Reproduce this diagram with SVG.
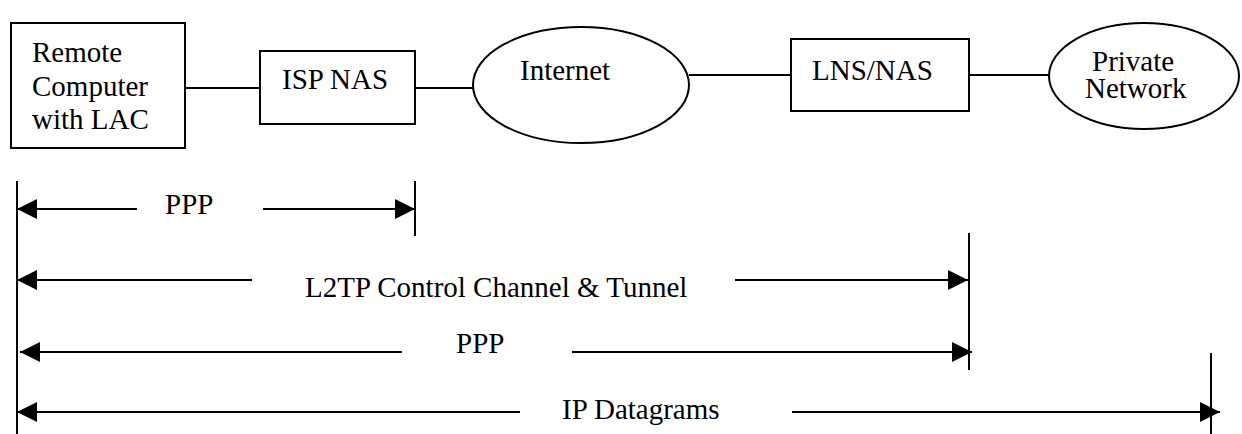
<svg xmlns="http://www.w3.org/2000/svg" width="1242" height="434" viewBox="0 0 1242 434">
<style>
.box{fill:#fff;stroke:#000;stroke-width:2}
.ln{stroke:#000;stroke-width:2;fill:none}
.ar{stroke:#000;stroke-width:2;fill:none;marker-end:url(#ah)}
text{font-family:"Liberation Serif","Times New Roman",serif;font-size:29px;fill:#000}
</style>
<defs>
<marker id="ah" markerUnits="userSpaceOnUse" markerWidth="20" markerHeight="20" refX="20" refY="10" orient="auto" viewBox="0 0 20 20">
<path d="M0,0 L20,10 L0,20 Z" fill="#000"/>
</marker>
</defs>
<rect width="1242" height="434" fill="#fff"/>
<g id="connectors">
<line class="ln" x1="185" y1="88" x2="260" y2="88"/>
<line class="ln" x1="415" y1="88" x2="473" y2="88"/>
<line class="ln" x1="689" y1="75" x2="791" y2="75"/>
<line class="ln" x1="969" y1="75" x2="1049" y2="75"/>
</g>
<g id="remote"><rect class="box" x="11" y="23" width="174" height="125"/>
<text x="32" y="62">Remote</text><text x="32" y="96">Computer</text><text x="32" y="129">with LAC</text></g>
<g id="ispnas"><rect class="box" x="260" y="51" width="155" height="73"/><text x="282" y="89">ISP NAS</text></g>
<g id="internet"><ellipse class="box" cx="581" cy="85" rx="108" ry="58"/><text x="520" y="80">Internet</text></g>
<g id="lnsnas"><rect class="box" x="791" y="39" width="178" height="72"/><text x="812" y="80">LNS/NAS</text></g>
<g id="private"><ellipse class="box" cx="1144" cy="76" rx="95" ry="53"/><text x="1092" y="71">Private</text><text x="1085" y="98">Network</text></g>
<g id="spans">
<line class="ln" x1="17" y1="181" x2="17" y2="434"/>
<line class="ln" x1="415" y1="181" x2="415" y2="236"/>
<line class="ln" x1="969" y1="233" x2="969" y2="370"/>
<line class="ln" x1="1211" y1="353" x2="1211" y2="434"/>
<line class="ar" x1="137" y1="209" x2="17" y2="209"/>
<line class="ar" x1="263" y1="209" x2="415" y2="209"/>
<text x="165" y="214">PPP</text>
<line class="ar" x1="252" y1="280" x2="17" y2="280"/>
<line class="ar" x1="735" y1="280" x2="968" y2="280"/>
<text x="305" y="297">L2TP Control Channel &amp; Tunnel</text>
<line class="ar" x1="402" y1="352" x2="20" y2="352"/>
<line class="ar" x1="572" y1="352" x2="972" y2="352"/>
<text x="456" y="353">PPP</text>
<line class="ar" x1="520" y1="412" x2="17" y2="412"/>
<line class="ar" x1="792" y1="412" x2="1220" y2="412"/>
<text x="562" y="419">IP Datagrams</text>
</g>
</svg>
